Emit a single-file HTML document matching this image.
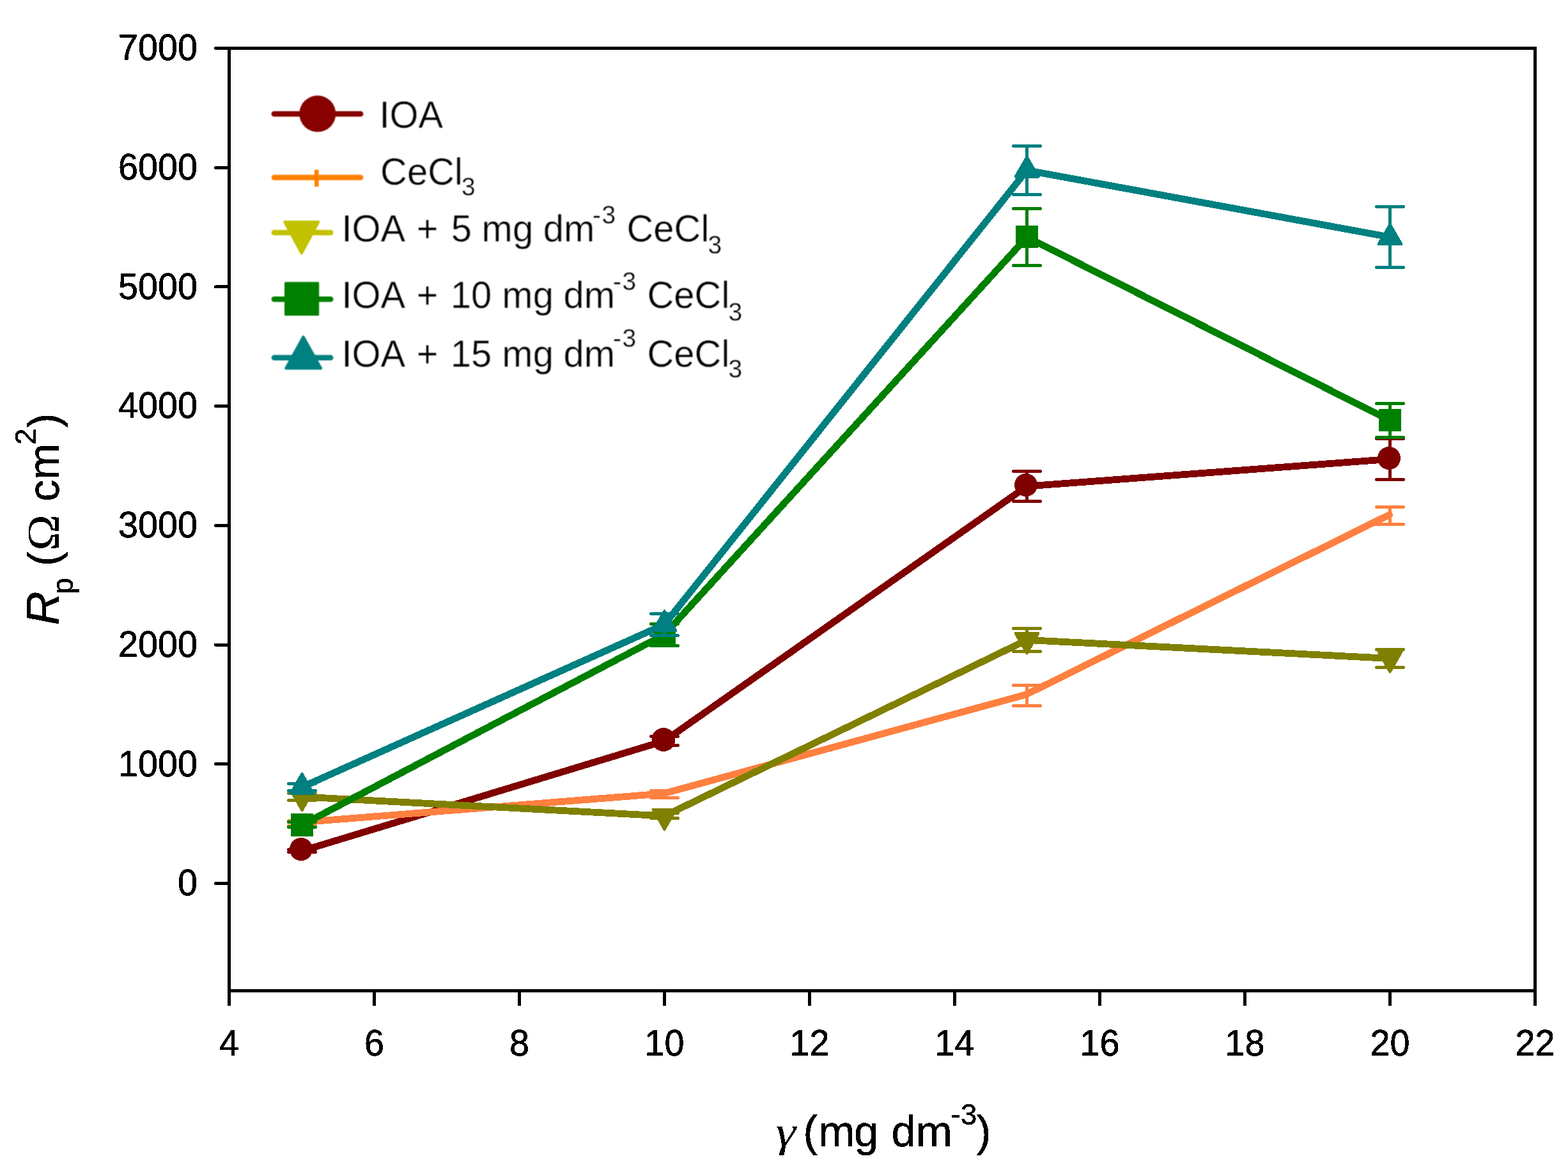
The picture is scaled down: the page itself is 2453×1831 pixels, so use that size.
<!DOCTYPE html>
<html lang="en"><head><meta charset="utf-8"><title>Rp vs concentration</title>
<style>
html,body{margin:0;padding:0;background:#fff;}
body{width:2453px;height:1831px;overflow:hidden;}
svg{display:block;}
text{font-family:"Liberation Sans",Arial,Helvetica,sans-serif;fill:#000;}
.tk{font-size:55.5px;stroke:#000;stroke-width:0.6px;}
.lg{font-size:58px;stroke:#fff;stroke-width:0.5px;}
.lgs{font-size:39px;stroke:#fff;stroke-width:0.4px;}
.ax{font-size:68.5px;stroke:#000;stroke-width:0.5px;}
.axs{font-size:46px;stroke:#000;stroke-width:0.5px;}
.sym{font-family:"Liberation Serif","DejaVu Serif",serif;stroke:none;}
</style></head><body>
<svg width="2453" height="1831" viewBox="0 0 2453 1831" role="img" aria-label="Polarization resistance versus inhibitor concentration">
<defs>
<filter id="bw" x="-5%" y="-5%" width="110%" height="110%" color-interpolation-filters="sRGB"><feComponentTransfer><feFuncA type="discrete" tableValues="0 1"/></feComponentTransfer></filter>
<filter id="soft" x="-5%" y="-5%" width="110%" height="110%" color-interpolation-filters="sRGB"><feConvolveMatrix order="3" kernelMatrix="1 2 1 2 4 2 1 2 1" edgeMode="none" preserveAlpha="false"/></filter>
</defs>
<rect x="0" y="0" width="2453" height="1831" fill="#ffffff"/>
<g shape-rendering="crispEdges">
<g id="ioa" fill="#800000" stroke="#800000">
<polyline points="472.5,1331.6 1039.5,1159.5 1606.5,761.0 2174.5,718.5" fill="none" stroke-width="10.8" stroke-linejoin="round" stroke-linecap="round"/>
<path d="M451.5 1329.5H493.5M451.5 1333.5H493.5M472.5 1329.5V1333.5" fill="none" stroke-width="5" stroke-linecap="round"/>
<circle cx="471.0" cy="1329.0" r="18" stroke="none"/>
<path d="M1018.5 1152.5H1060.5M1018.5 1166.5H1060.5M1039.5 1152.5V1166.5" fill="none" stroke-width="5" stroke-linecap="round"/>
<circle cx="1038.0" cy="1157.5" r="18.5" stroke="none"/>
<path d="M1585.5 737.5H1627.5M1585.5 784.5H1627.5M1606.5 737.5V784.5" fill="none" stroke-width="5" stroke-linecap="round"/>
<circle cx="1605.0" cy="759.0" r="18" stroke="none"/>
<path d="M2153.5 686.5H2195.5M2153.5 750.5H2195.5M2174.5 686.5V750.5" fill="none" stroke-width="5" stroke-linecap="round"/>
<circle cx="2173.0" cy="717.0" r="18" stroke="none"/>
</g>
<g id="cecl3" fill="#FF8040" stroke="#FF8040">
<polyline points="471.5,1286.9 1038.5,1241.8 1605.5,1086.9 2173.5,805.6" fill="none" stroke-width="10.8" stroke-linejoin="round" stroke-linecap="round"/>
<path d="M451.5 1284.5H493.5M451.5 1292.5H493.5M472.5 1284.5V1292.5" fill="none" stroke-width="5" stroke-linecap="round"/>
<path d="M1018.5 1237.5H1060.5M1018.5 1248.5H1060.5M1039.5 1237.5V1248.5" fill="none" stroke-width="5" stroke-linecap="round"/>
<path d="M1585.5 1072.5H1627.5M1585.5 1104.5H1627.5M1606.5 1072.5V1104.5" fill="none" stroke-width="5" stroke-linecap="round"/>
<path d="M2153.5 793.5H2195.5M2153.5 820.5H2195.5M2174.5 793.5V820.5" fill="none" stroke-width="5" stroke-linecap="round"/>
</g>
<g id="mix5" fill="#808000" stroke="#808000">
<polyline points="472.5,1247.0 1039.5,1277.0 1606.5,1001.5 2174.5,1030.5" fill="none" stroke-width="10.8" stroke-linejoin="round" stroke-linecap="round"/>
<path d="M451.5 1241.5H493.5M451.5 1252.5H493.5M472.5 1241.5V1252.5" fill="none" stroke-width="5" stroke-linecap="round"/>
<path d="M472.5 1268.0L490.5 1236.5L454.5 1236.5Z" stroke-width="4" stroke-linejoin="round"/>
<path d="M1018.5 1272.5H1060.5M1018.5 1280.5H1060.5M1039.5 1272.5V1280.5" fill="none" stroke-width="5" stroke-linecap="round"/>
<path d="M1039.5 1298.0L1057.5 1266.5L1021.5 1266.5Z" stroke-width="4" stroke-linejoin="round"/>
<path d="M1585.5 983.5H1627.5M1585.5 1019.5H1627.5M1606.5 983.5V1019.5" fill="none" stroke-width="5" stroke-linecap="round"/>
<path d="M1606.5 1022.5L1624.5 991.0L1588.5 991.0Z" stroke-width="4" stroke-linejoin="round"/>
<path d="M2153.5 1016.5H2195.5M2153.5 1044.5H2195.5M2174.5 1016.5V1044.5" fill="none" stroke-width="5" stroke-linecap="round"/>
<path d="M2174.5 1051.5L2192.5 1020.0L2156.5 1020.0Z" stroke-width="4" stroke-linejoin="round"/>
</g>
<g id="mix10" fill="#008000" stroke="#008000">
<polyline points="472.5,1291.0 1039.5,993.1 1606.5,371.1 2174.5,658.0" fill="none" stroke-width="10.8" stroke-linejoin="round" stroke-linecap="round"/>
<path d="M451.5 1286.5H493.5M451.5 1294.5H493.5M472.5 1286.5V1294.5" fill="none" stroke-width="5" stroke-linecap="round"/>
<rect x="456.0" y="1274.0" width="33" height="34" stroke-width="2" stroke-linejoin="round"/>
<path d="M1018.5 976.5H1060.5M1018.5 1010.5H1060.5M1039.5 976.5V1010.5" fill="none" stroke-width="5" stroke-linecap="round"/>
<rect x="1023.0" y="977.0" width="33" height="33" stroke-width="2" stroke-linejoin="round"/>
<path d="M1585.5 326.5H1627.5M1585.5 415.5H1627.5M1606.5 326.5V415.5" fill="none" stroke-width="5" stroke-linecap="round"/>
<rect x="1590.0" y="354.0" width="33" height="33" stroke-width="2" stroke-linejoin="round"/>
<path d="M2153.5 631.5H2195.5M2153.5 684.5H2195.5M2174.5 631.5V684.5" fill="none" stroke-width="5" stroke-linecap="round"/>
<rect x="2158.0" y="641.0" width="33" height="33" stroke-width="2" stroke-linejoin="round"/>
</g>
<g id="mix15" fill="#008080" stroke="#008080">
<polyline points="472.5,1231.8 1039.5,977.2 1606.5,266.5 2174.5,371.1" fill="none" stroke-width="10.8" stroke-linejoin="round" stroke-linecap="round"/>
<path d="M451.5 1226.5H493.5M451.5 1237.5H493.5M472.5 1226.5V1237.5" fill="none" stroke-width="5" stroke-linecap="round"/>
<path d="M472.5 1210.8L490.5 1242.0L454.5 1242.0Z" stroke-width="4" stroke-linejoin="round"/>
<path d="M1018.5 960.5H1060.5M1018.5 994.5H1060.5M1039.5 960.5V994.5" fill="none" stroke-width="5" stroke-linecap="round"/>
<path d="M1039.5 956.2L1057.5 987.4L1021.5 987.4Z" stroke-width="4" stroke-linejoin="round"/>
<path d="M1585.5 228.5H1627.5M1585.5 304.5H1627.5M1606.5 228.5V304.5" fill="none" stroke-width="5" stroke-linecap="round"/>
<path d="M1606.5 245.5L1624.5 276.7L1588.5 276.7Z" stroke-width="4" stroke-linejoin="round"/>
<path d="M2153.5 323.5H2195.5M2153.5 418.5H2195.5M2174.5 323.5V418.5" fill="none" stroke-width="5" stroke-linecap="round"/>
<path d="M2174.5 351.0L2192.5 382.2L2156.5 382.2Z" stroke-width="4" stroke-linejoin="round"/>
</g>
</g>
<g id="axes" stroke="#000" stroke-width="5" fill="none" shape-rendering="crispEdges">
<rect x="358.5" y="75.5" width="2043.0" height="1475.0"/>
<line x1="337.5" y1="1382.5" x2="358.5" y2="1382.5" stroke-linecap="round"/>
<line x1="337.5" y1="1195.8" x2="358.5" y2="1195.8" stroke-linecap="round"/>
<line x1="337.5" y1="1009.1" x2="358.5" y2="1009.1" stroke-linecap="round"/>
<line x1="337.5" y1="822.4" x2="358.5" y2="822.4" stroke-linecap="round"/>
<line x1="337.5" y1="635.6" x2="358.5" y2="635.6" stroke-linecap="round"/>
<line x1="337.5" y1="448.9" x2="358.5" y2="448.9" stroke-linecap="round"/>
<line x1="337.5" y1="262.2" x2="358.5" y2="262.2" stroke-linecap="round"/>
<line x1="337.5" y1="75.5" x2="358.5" y2="75.5" stroke-linecap="round"/>
<line x1="358.5" y1="1550.5" x2="358.5" y2="1574"/>
<line x1="585.5" y1="1550.5" x2="585.5" y2="1574"/>
<line x1="812.5" y1="1550.5" x2="812.5" y2="1574"/>
<line x1="1039.5" y1="1550.5" x2="1039.5" y2="1574"/>
<line x1="1266.5" y1="1550.5" x2="1266.5" y2="1574"/>
<line x1="1493.5" y1="1550.5" x2="1493.5" y2="1574"/>
<line x1="1720.5" y1="1550.5" x2="1720.5" y2="1574"/>
<line x1="1947.5" y1="1550.5" x2="1947.5" y2="1574"/>
<line x1="2174.5" y1="1550.5" x2="2174.5" y2="1574"/>
<line x1="2401.5" y1="1550.5" x2="2401.5" y2="1574"/>
</g>
<g id="yticks" class="tk" text-anchor="end" filter="url(#bw)">
<text transform="translate(309 1401.3) scale(1.005 1.045)">0</text>
<text transform="translate(309 1214.6) scale(1.005 1.045)">1000</text>
<text transform="translate(309 1027.9) scale(1.005 1.045)">2000</text>
<text transform="translate(309 841.2) scale(1.005 1.045)">3000</text>
<text transform="translate(309 654.4) scale(1.005 1.045)">4000</text>
<text transform="translate(309 467.7) scale(1.005 1.045)">5000</text>
<text transform="translate(309 281.0) scale(1.005 1.045)">6000</text>
<text transform="translate(309 94.3) scale(1.005 1.045)">7000</text>
</g>
<g id="xticks" class="tk" text-anchor="middle" filter="url(#bw)">
<text transform="translate(358.5 1651.5) scale(1.005 1.045)">4</text>
<text transform="translate(585.5 1651.5) scale(1.005 1.045)">6</text>
<text transform="translate(812.5 1651.5) scale(1.005 1.045)">8</text>
<text transform="translate(1039.5 1651.5) scale(1.005 1.045)">10</text>
<text transform="translate(1266.5 1651.5) scale(1.005 1.045)">12</text>
<text transform="translate(1493.5 1651.5) scale(1.005 1.045)">14</text>
<text transform="translate(1720.5 1651.5) scale(1.005 1.045)">16</text>
<text transform="translate(1947.5 1651.5) scale(1.005 1.045)">18</text>
<text transform="translate(2174.5 1651.5) scale(1.005 1.045)">20</text>
<text transform="translate(2401.5 1651.5) scale(1.005 1.045)">22</text>
</g>
<g filter="url(#bw)"><g id="ytitle" class="ax" transform="translate(92.1 976) rotate(-90)">
<text transform="translate(-2.5 0) scale(1.07 1.065)" font-style="italic">R</text>
<text class="axs" x="46" y="21.7">p</text>
<text x="90" y="0">(</text>
<text class="sym" transform="translate(114 0) scale(1.12 1.06)">Ω</text>
<text x="191" y="0">cm</text>
<text class="axs" x="280" y="-36">2</text>
<text x="306.5" y="0">)</text>
</g></g>
<g id="xtitle" class="ax" filter="url(#bw)">
<text class="sym" transform="translate(1213.5 1794) scale(1.17 1)" font-style="italic">γ</text>
<text x="1256.6" y="1794">(<tspan dx="0.9">m</tspan><tspan dx="-1.2">g</tspan> <tspan dx="1.2">dm</tspan></text>
<text class="axs" x="1487.5" y="1760">-3</text>
<text x="1527.5" y="1794">)</text>
</g>
<g id="legend" filter="url(#soft)">
<line x1="428.9" y1="178.2" x2="564.1" y2="178.2" stroke="#880000" stroke-width="8.6" stroke-linecap="round"/>
<circle cx="496.8" cy="178" r="28.5" fill="#880000"/>
<text class="lg" transform="translate(593.4 199.9) scale(1 1.035)">IOA</text>
<line x1="428.9" y1="277.7" x2="564.1" y2="277.7" stroke="#FF8000" stroke-width="8.6" stroke-linecap="round"/>
<rect x="492" y="265.6" width="6.6" height="26.4" fill="#FF8000"/>
<g transform="translate(0 288.9) scale(1 1.035)"><text class="lg" x="595" y="0">CeCl</text><text class="lgs" x="722" y="16.3">3</text></g>
<line x1="428.9" y1="364" x2="517.2" y2="364" stroke="#C2C200" stroke-width="8.6" stroke-linecap="round"/>
<path d="M445.2 347.2H498.4L471.8 396.5Z" fill="#C2C200" stroke="#C2C200" stroke-width="4" stroke-linejoin="round"/>
<g transform="translate(0 377.8) scale(1 1.035)">
<text class="lg" x="534.4" y="0">IOA <tspan dx="4.5">+</tspan> <tspan dx="4">5</tspan> <tspan dx="-0.5">mg</tspan> <tspan dx="-0.5">dm</tspan></text>
<text class="lgs" x="927" y="-26.8">-<tspan dx="1.5">3</tspan></text>
<text class="lg" x="980.5" y="0">CeCl</text>
<text class="lgs" x="1107.5" y="19">3</text>
</g>
<line x1="428.9" y1="468.2" x2="517.2" y2="468.2" stroke="#008000" stroke-width="8.6" stroke-linecap="round"/>
<rect x="445" y="441.3" width="54.2" height="52.8" rx="1.5" fill="#008000"/>
<g transform="translate(0 482) scale(1 1.035)">
<text class="lg" x="534.4" y="0">IOA <tspan dx="4.5">+</tspan> <tspan dx="3">10</tspan> <tspan dx="0">mg</tspan> <tspan dx="-0.5">dm</tspan></text>
<text class="lgs" x="959" y="-26.8">-<tspan dx="1.5">3</tspan></text>
<text class="lg" x="1012.5" y="0">CeCl</text>
<text class="lgs" x="1139.5" y="19">3</text>
</g>
<line x1="428.9" y1="559.7" x2="517.2" y2="559.7" stroke="#008080" stroke-width="8.6" stroke-linecap="round"/>
<path d="M474.5 527L502.2 576.4H447.2Z" fill="#008080" stroke="#008080" stroke-width="4" stroke-linejoin="round"/>
<g transform="translate(0 574) scale(1 1.035)">
<text class="lg" x="534.4" y="0">IOA <tspan dx="4.5">+</tspan> <tspan dx="3">15</tspan> <tspan dx="0">mg</tspan> <tspan dx="-0.5">dm</tspan></text>
<text class="lgs" x="959" y="-30.2">-<tspan dx="1.5">3</tspan></text>
<text class="lg" x="1012.5" y="0">CeCl</text>
<text class="lgs" x="1139.5" y="16.4">3</text>
</g>
</g>
</svg>
</body></html>
